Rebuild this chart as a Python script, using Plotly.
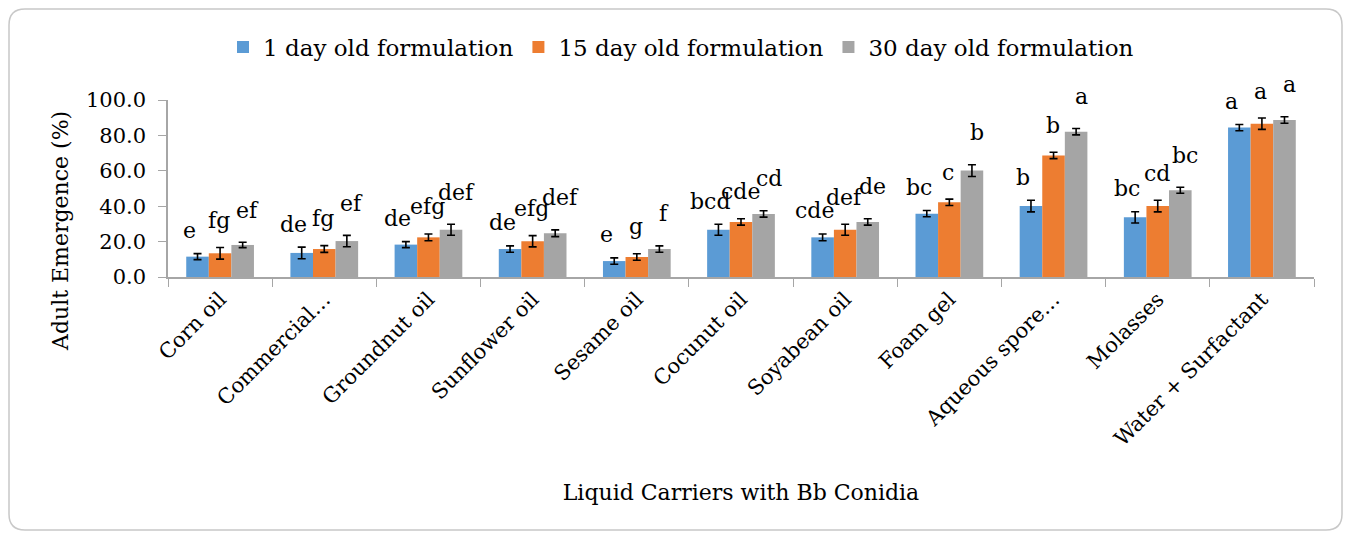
import plotly.graph_objects as go

categories = ["Corn oil", "Commercial…", "Groundnut oil", "Sunflower oil", "Sesame oil",
              "Cocunut oil", "Soyabean oil", "Foam gel", "Aqueous spore…", "Molasses",
              "Water + Surfactant"]
series_names = ["1 day old formulation", "15 day old formulation", "30 day old formulation"]

day1 = [11.5, 13.6, 18.3, 15.8, 9.0, 26.7, 22.4, 35.8, 40.1, 33.7, 84.4]
day15 = [13.4, 15.8, 22.4, 20.2, 11.3, 31.1, 26.7, 42.2, 68.7, 40.1, 86.6]
day30 = [18.1, 20.3, 26.7, 24.7, 15.8, 35.6, 31.1, 60.1, 82.1, 49.0, 88.7]

err1 = [1.7, 3.3, 1.7, 1.8, 1.8, 3.1, 1.9, 1.8, 3.3, 3.2, 1.8]
err15 = [3.3, 1.9, 1.9, 3.2, 1.8, 1.8, 3.1, 1.8, 1.8, 3.3, 3.2]
err30 = [1.5, 3.2, 3.1, 1.9, 1.8, 1.8, 1.8, 3.3, 1.8, 1.7, 1.8]

let1 = ["e", "de", "de", "de", "e", "bcd", "cde", "bc", "b", "bc", "a"]
let15 = ["fg", "fg", "efg", "efg", "g", "cde", "def", "c", "b", "cd", "a"]
let30 = ["ef", "ef", "def", "def", "f", "cd", "de", "b", "a", "bc", "a"]

x_title = "Liquid Carriers with Bb Conidia"
y_title = "Adult Emergence (%)"

colors = ["#5B9BD5", "#ED7D31", "#A5A5A5"]
FONT = "DejaVu Serif"

# page offset of the plotly div (body margin)
OFF = 8
W, H = 1351 - OFF, 533 - OFF
L, R, T, B = 168 - OFF, 1351 - 1314, 100 - OFF, 533 - 277
pw, ph = W - L - R, H - T - B

fig = go.Figure()
vals = [day1, day15, day30]
errs = [err1, err15, err30]
lets = [let1, let15, let30]
for i in range(3):
    fig.add_trace(go.Bar(
        x=categories, y=vals[i], name=series_names[i],
        marker=dict(color=colors[i], line=dict(width=0)),
        error_y=dict(type="data", array=errs[i], color="black", thickness=1.6, width=4),
    ))

bargap = 0.35
barw = pw / len(categories) * (1 - bargap) / 3
label_dx = [-8, -1, 5]
label_dy = [23, 27, 32]
for i in range(3):
    for c, v, e, t in zip(categories, vals[i], errs[i], lets[i]):
        fig.add_annotation(x=c, y=v + e, text=t, showarrow=False, xref="x", yref="y",
                           xshift=(i - 1) * barw + label_dx[i], yshift=label_dy[i],
                           yanchor="middle",
                           font=dict(family=FONT, size=22, color="black"))

# page pixel -> paper
def px(xp):
    return (xp - OFF - L) / pw

def py(yp):
    return (H - B - (yp - OFF)) / ph

# y axis title placed as in the reference (not centred on the axis)
fig.add_annotation(text=y_title, textangle=-90, showarrow=False, xref="paper", yref="paper",
                   x=px(60), y=py(231), xanchor="center", yanchor="middle",
                   font=dict(family=FONT, size=22, color="black"))

x0, x1, y0, y1, rr = 9, 1342, 9, 530, 16
path = (f"M {px(x0+rr)},{py(y0)} L {px(x1-rr)},{py(y0)} Q {px(x1)},{py(y0)} {px(x1)},{py(y0+rr)} "
        f"L {px(x1)},{py(y1-rr)} Q {px(x1)},{py(y1)} {px(x1-rr)},{py(y1)} "
        f"L {px(x0+rr)},{py(y1)} Q {px(x0)},{py(y1)} {px(x0)},{py(y1-rr)} "
        f"L {px(x0)},{py(y0+rr)} Q {px(x0)},{py(y0)} {px(x0+rr)},{py(y0)} Z")
fig.add_shape(type="path", path=path, xref="paper", yref="paper",
              line=dict(color="#C8C8C8", width=1.5), layer="below")

fig.update_layout(
    width=W, height=H,
    margin=dict(l=L, r=R, t=T, b=B, autoexpand=False),
    barmode="group", bargap=bargap, bargroupgap=0,
    plot_bgcolor="white", paper_bgcolor="white",
    font=dict(family=FONT, size=21, color="black"),
    legend=dict(orientation="h", xref="paper", x=px(681), xanchor="center",
                y=py(47), yanchor="middle",
                font=dict(family=FONT, size=23), itemwidth=30,
                traceorder="normal"),
    xaxis=dict(
        showline=True, linecolor="#A6A6A6", linewidth=1.5,
        ticks="outside", tickson="boundaries", ticklen=8, tickcolor="#A6A6A6",
        tickangle=-45, tickfont=dict(family=FONT, size=21),
        title=dict(text=x_title, font=dict(family=FONT, size=22), standoff=35),
        automargin=False,
    ),
    yaxis=dict(
        range=[0, 100], dtick=20, tickformat=".1f",
        showline=True, linecolor="#A6A6A6", linewidth=1.5,
        ticks="outside", ticklen=8, tickcolor="#A6A6A6", ticklabelstandoff=8,
        showgrid=False, zeroline=False,
        tickfont=dict(family=FONT, size=21),
        automargin=False,
    ),
)

fig.write_html("out.html")
